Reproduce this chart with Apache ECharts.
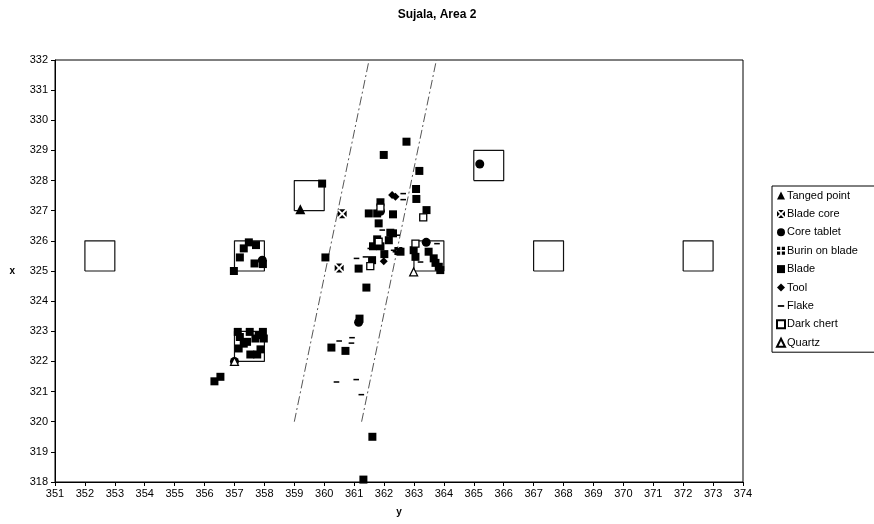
<!DOCTYPE html>
<html><head><meta charset="utf-8">
<script src="https://cdn.jsdelivr.net/npm/echarts@6/dist/echarts.min.js"></script>
<style>html,body{margin:0;padding:0;background:#fff}#c{width:874px;height:524px}</style>
</head><body><div id="c"></div>
<script>
// ---- data ----
const xRange = [351, 374];
const yRange = [318, 332];
const tangedPoint = [[359.2, 327.05]];
const bladeCore = [[360.6, 326.9], [360.5, 325.1]];
const coreTablet = [[365.2, 328.55], [357.0, 322.0], [357.93, 325.36], [361.15, 323.3], [363.41, 325.95], [361.88, 326.98]];
const burinOnBlade = [[362.48, 325.66]];
const blade = [
  [357.11,322.98],[357.51,322.98],[357.95,322.98],[357.18,322.81],[357.81,322.87],[357.70,322.76],[357.98,322.76],
  [357.31,322.59],[357.14,322.43],[357.42,322.65],[357.87,322.40],[357.53,322.23],[357.76,322.23],[356.53,321.49],[356.33,321.34],
  [357.48,325.95],[357.31,325.75],[357.72,325.86],[357.18,325.45],[357.67,325.25],[357.95,325.23],[356.98,325.0],
  [359.93,327.9],
  [362.75,329.29],[361.99,328.85],[363.18,328.32],[363.07,327.72],[363.08,327.39],[363.42,327.02],[361.88,327.28],
  [361.49,326.91],[361.77,326.91],[362.30,326.88],[361.82,326.58],[362.21,326.27],[361.77,326.05],[362.16,326.02],
  [361.63,325.82],[361.88,325.82],[362.01,325.56],[361.60,325.36],[361.15,325.08],[360.04,325.45],[362.30,326.25],
  [362.55,325.64],[362.99,325.69],[363.05,325.47],[363.49,325.64],[363.66,325.42],[363.72,325.27],[363.83,325.14],
  [363.88,325.03],[361.41,324.45],[361.18,323.42],[360.24,322.46],[360.71,322.35],[361.61,319.5],[361.31,318.08]
];
const tool = [[362.27,327.52],[362.38,327.46],[361.99,325.32]];
const flake = [
  [362.64,327.57],[362.64,327.37],[361.94,326.36],[361.54,325.75],[362.32,325.69],[361.08,325.42],[361.38,325.47],
  [363.77,325.91],[363.22,325.30],[362.38,325.64],[362.44,326.19],[360.93,322.79],[360.91,322.61],[360.50,322.68],
  [360.41,321.32],[361.07,321.40],[361.24,320.90]
];
const darkChert = [[361.88,327.1],[361.82,325.97],[361.54,325.16],[363.31,326.78],[363.05,325.91]];
const quartz = [[357.0,322.0],[362.99,324.97]];
// unit squares (lower-left corners)
const boxCorners = [[352,325],[357,325],[357,322],[359,327],[363,325],[365,328],[367,325],[372,325]];
// dash-dot guide lines [[x0,y0],[x1,y1]]
const guideLines = [[[359,320],[361.5,332]], [[361.25,320],[363.75,332]]];

// ---- build ----
const boxData = [];
boxCorners.forEach(([x,y]) => {
  boxData.push([x,y],[x+1,y],[x+1,y+1],[x,y+1],[x,y],'-');
});
const F = 'Liberation Sans, Arial, sans-serif';
const blk = '#000';
const bladeCoreSym = 'path://M1.5,0L8.5,0L5,3.5Z M10,1.5L10,8.5L6.5,5Z M1.5,10L8.5,10L5,6.5Z M0,1.5L0,8.5L3.5,5Z';
const burinSym = 'path://M0,0h4v4h-4z M6,0h4v4h-4z M0,6h4v4h-4z M6,6h4v4h-4z';
const flakeSym = 'path://M0,0M10,10M1,4L9,4L9,6.2L1,6.2Z';

function sc(name, data, symbol, size, extra) {
  return Object.assign({
    type: 'scatter', name, data, symbol, symbolSize: size,
    itemStyle: {color: blk, opacity: 1}, z: 5, animation: false
  }, extra || {});
}

const series = [
  {type:'line', name:'boxes', data: boxData, symbol:'none', connectNulls:false,
   lineStyle:{color:'#111', width:1.2}, z:2, animation:false, silent:true},
];
guideLines.forEach(l => series.push({type:'line', name:'guide', data:l, symbol:'none',
  lineStyle:{color:'#555', width:1, type:[9,3,2,3]}, z:2, animation:false, silent:true}));
series.push(
  sc('Tanged point', tangedPoint, 'triangle', 10),
  sc('Blade core', bladeCore, bladeCoreSym, 9),
  sc('Core tablet', coreTablet, 'circle', 9),
  sc('Burin on blade', burinOnBlade, burinSym, 8),
  sc('Blade', blade, 'rect', 8),
  sc('Tool', tool, 'diamond', 8),
  sc('Flake', flake, flakeSym, 7),
  sc('Dark chert', darkChert, 'rect', 7, {itemStyle:{color:'#fff', borderColor:'#000', borderWidth:1.3, opacity:1}, z:6}),
  sc('Quartz', quartz, 'triangle', 8, {itemStyle:{color:'#fff', borderColor:'#000', borderWidth:1.2, opacity:1}, z:7})
);

const chart = echarts.init(document.getElementById('c'), null, {renderer:'canvas'});
chart.setOption({
  animation: false,
  backgroundColor: '#fff',
  title: {text: 'Sujala, Area 2', left: 'center', top: 4,
    textStyle: {fontFamily: F, fontSize: 12, fontWeight: 'bold', color: '#000'}},
  grid: {left: 55, top: 60, right: 131, bottom: 42, show: true, borderColor: '#000', borderWidth: 1},
  legend: {
    orient: 'vertical', left: 772, top: 186, width: 110,
    data: ['Tanged point','Blade core','Core tablet','Burin on blade','Blade','Tool',
           {name:'Flake', icon: flakeSym},'Dark chert','Quartz'],
    itemWidth: 8, itemHeight: 8, itemGap: 7.4,
    padding: [4, 20, 4, 4],
    borderColor: '#000', borderWidth: 1, backgroundColor: '#fff',
    textStyle: {fontFamily: F, fontSize: 11, color: '#000', padding: [0,0,0,-3]}
  },
  xAxis: {
    type: 'value', min: xRange[0], max: xRange[1], interval: 1,
    name: 'y', nameLocation: 'middle', nameGap: 25,
    nameTextStyle: {fontFamily: F, fontSize: 10, fontWeight: 'bold', color: '#000'},
    axisLine: {show: true, lineStyle: {color: '#000'}},
    axisTick: {show: true, inside: false, length: 4, lineStyle: {color: '#000'}},
    axisLabel: {fontFamily: F, fontSize: 11, color: '#000', margin: 6},
    splitLine: {show: false}
  },
  yAxis: {
    type: 'value', min: yRange[0], max: yRange[1], interval: 1,
    name: 'x', nameLocation: 'middle', nameGap: 40, nameRotate: 0,
    nameTextStyle: {fontFamily: F, fontSize: 10, fontWeight: 'bold', color: '#000'},
    axisLine: {show: true, lineStyle: {color: '#000'}},
    axisTick: {show: true, inside: false, length: 4, lineStyle: {color: '#000'}},
    axisLabel: {fontFamily: F, fontSize: 11, color: '#000', margin: 7},
    splitLine: {show: false}
  },
  series
});
</script></body></html>
